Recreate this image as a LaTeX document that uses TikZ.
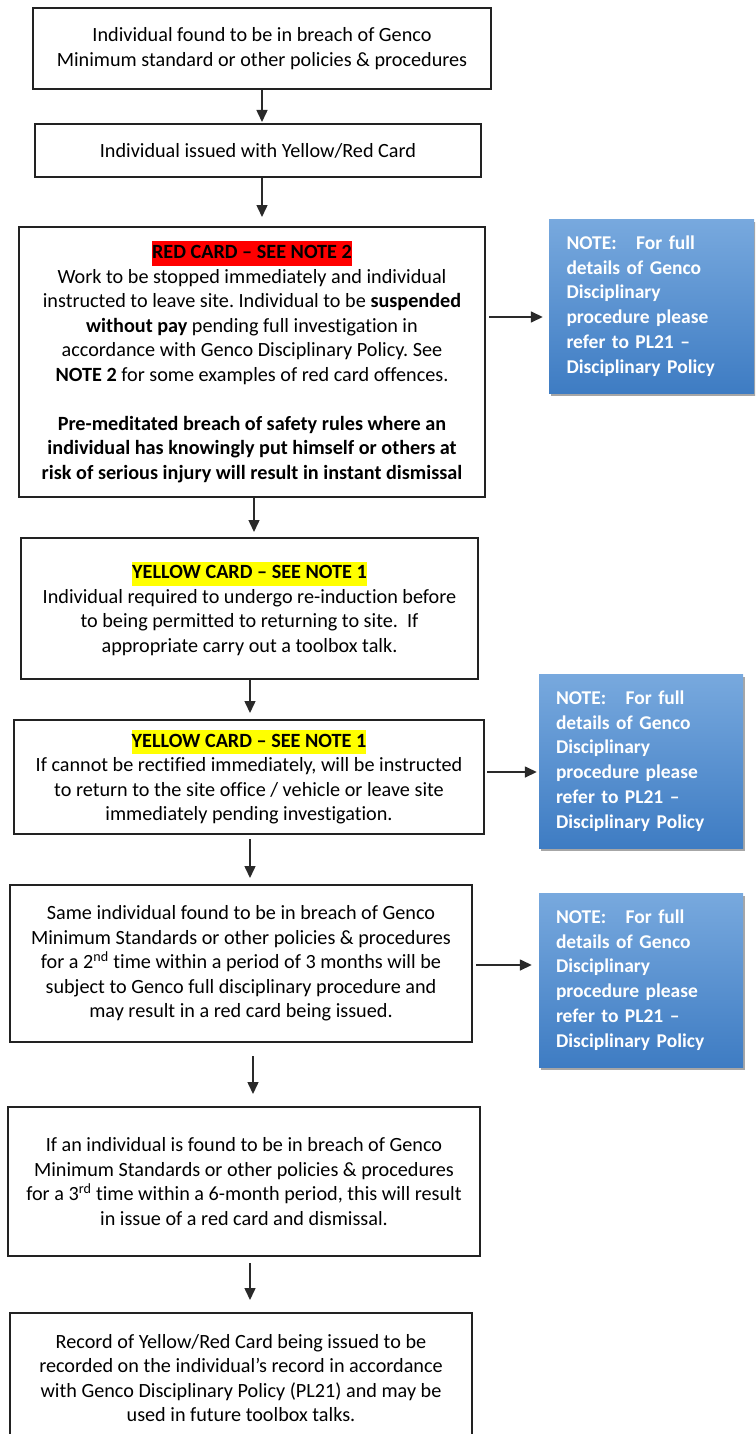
\documentclass[tikz,border=0pt]{standalone}
\usepackage{fontspec}
\setmainfont{Carlito}[Ligatures={NoCommon}]
\usetikzlibrary{arrows.meta,shadows}
\definecolor{noteTop}{HTML}{78A9DE}
\definecolor{noteBot}{HTML}{3E7CC3}
\definecolor{hlred}{HTML}{FF0000}
\definecolor{hlyel}{HTML}{FFFF00}
\definecolor{edge}{HTML}{222222}
\definecolor{arrline}{HTML}{2A2A2A}
\newcommand{\hlbox}[2]{{\setlength{\fboxsep}{0pt}\colorbox{#1}{\strut\textbf{#2}}}}
\frenchspacing
\begin{document}
\begin{tikzpicture}[x=1pt,y=-1pt,
  box/.style={draw=edge, line width=2pt, fill=white, align=center,
    font=\fontsize{20.2}{24.5}\selectfont, inner sep=0pt},
  note/.style={top color=noteTop, bottom color=noteBot, draw=none, text=white,
    align=left, text width=170pt, font=\fontsize{19.5}{24.8}\selectfont\bfseries,
    inner xsep=17pt, inner ysep=0pt, minimum width=204pt, minimum height=174pt,
    drop shadow={shadow xshift=2pt, shadow yshift=-3pt, opacity=0.35, fill=black}},
  arr/.style={draw=arrline, line width=1.5pt, -{Triangle[length=12pt,width=11pt]}}]
\useasboundingbox (0,0) rectangle (755,1434);
\clip (0,0) rectangle (755,1434);

\node[box, minimum width=458pt, minimum height=81pt] (b1) at (262,48.5)
  {Individual found to be in breach of Genco\\Minimum standard or other policies \& procedures};
\node[box, minimum width=446pt, minimum height=53pt] (b2) at (258,150.5)
  {Individual issued with Yellow/Red Card};
\node[box, minimum width=466pt, minimum height=270pt] (b3) at (252,362)
  {\hlbox{hlred}{RED CARD – SEE NOTE 2}\\
   Work to be stopped immediately and individual\\
   instructed to leave site. Individual to be \textbf{suspended}\\
   \textbf{without pay} pending full investigation in\\
   accordance with Genco Disciplinary Policy. See\\
   \textbf{NOTE 2} for some examples of red card offences.\\[24.5pt]
   \textbf{Pre-meditated breach of safety rules where an}\\
   \textbf{individual has knowingly put himself or others at}\\
   \textbf{risk of serious injury will result in instant dismissal}};
\node[box, minimum width=457pt, minimum height=141pt] (b4) at (249.5,608.5)
  {\hlbox{hlyel}{YELLOW CARD – SEE NOTE 1}\\
   Individual required to undergo re-induction before\\
   to being permitted to returning to site.\ \ If\\
   appropriate carry out a toolbox talk.};
\node[box, minimum width=470pt, minimum height=114pt] (b5) at (249,777)
  {\hlbox{hlyel}{YELLOW CARD – SEE NOTE 1}\\
   If cannot be rectified immediately, will be instructed\\
   to return to the site office / vehicle or leave site\\
   immediately pending investigation.};
\node[box, minimum width=462pt, minimum height=157pt] (b6) at (241,963.5)
  {Same individual found to be in breach of Genco\\
   Minimum Standards or other policies \& procedures\\
   for a 2\textsuperscript{nd} time within a period of 3 months will be\\
   subject to Genco full disciplinary procedure and\\
   may result in a red card being issued.};
\node[box, minimum width=472pt, minimum height=149pt] (b7) at (244,1181.5)
  {If an individual is found to be in breach of Genco\\
   Minimum Standards or other policies \& procedures\\
   for a 3\textsuperscript{rd} time within a 6-month period, this will result\\
   in issue of a red card and dismissal.};
\node[box, anchor=north, minimum width=462pt, minimum height=130pt] (b8) at (241,1312)
  {Record of Yellow/Red Card being issued to be\\
   recorded on the individual’s record in accordance\\
   with Genco Disciplinary Policy (PL21) and may be\\
   used in future toolbox talks.};

\node[note, minimum width=205pt] (n1) at (651.5,306)
  {NOTE:\ \ \ For full\\details of Genco\\Disciplinary\\procedure please\\refer to PL21 –\\Disciplinary Policy};
\node[note] (n2) at (641,761)
  {NOTE:\ \ \ For full\\details of Genco\\Disciplinary\\procedure please\\refer to PL21 –\\Disciplinary Policy};
\node[note] (n3) at (641,980)
  {NOTE:\ \ \ For full\\details of Genco\\Disciplinary\\procedure please\\refer to PL21 –\\Disciplinary Policy};

\draw[arr, shorten >=1pt] (b1.south) -- (b1.south |- b2.north);
\draw[arr, shorten >=9pt] ([xshift=4pt]b2.south) -- ([xshift=4pt]b2.south |- b3.north);
\draw[arr, shorten >=5pt] ([xshift=2pt]b3.south) -- ([xshift=2pt]b3.south |- b4.north);
\draw[arr, shorten >=6pt] ([xshift=0.5pt]b4.south) -- ([xshift=0.5pt]b4.south |- b5.north);
\draw[arr, shorten <=4pt, shorten >=6pt] ([xshift=1pt]b5.south) -- ([xshift=1pt]b5.south |- b6.north);
\draw[arr, shorten <=13pt, shorten >=12pt] ([xshift=12pt]b6.south) -- ([xshift=12pt]b6.south |- b7.north);
\draw[arr, shorten <=6pt, shorten >=12pt] ([xshift=6pt]b7.south) -- ([xshift=6pt]b7.south |- b8.north);

\draw[arr, shorten <=3pt, shorten >=6pt] ([yshift=45pt]b3.east) -- ([yshift=45pt]b3.east -| n1.west);
\draw[arr, shorten <=2pt, shorten >=2pt] ([yshift=5pt]b5.east) -- ([yshift=5pt]b5.east -| n2.west);
\draw[arr, shorten <=3pt, shorten >=7pt] ([yshift=-1.5pt]b6.east) -- ([yshift=-1.5pt]b6.east -| n3.west);
\end{tikzpicture}
\end{document}
